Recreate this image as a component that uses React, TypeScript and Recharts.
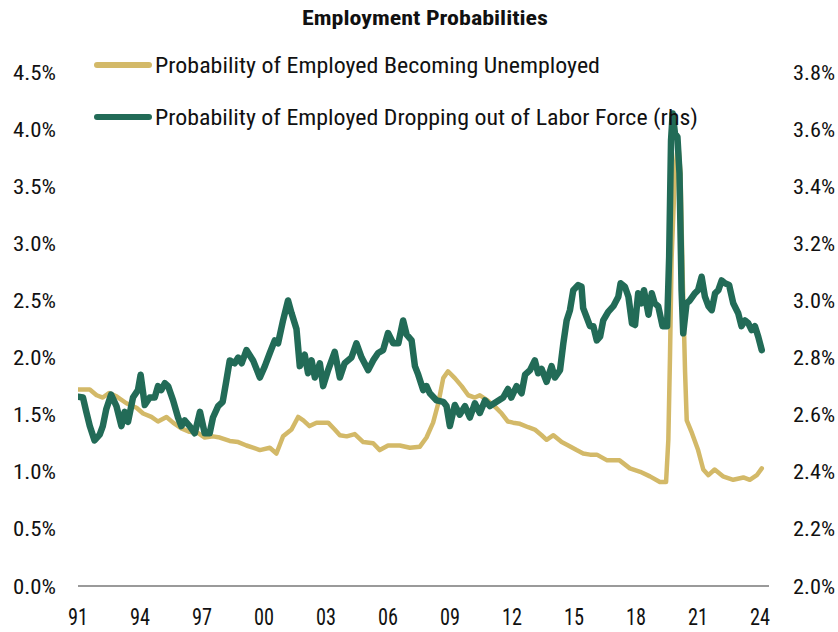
import React from 'react';
import { LineChart, Line, XAxis, YAxis, Legend } from 'recharts';

const chartTitle = 'Employment Probabilities';
const seriesNames = [
  'Probability of Employed Becoming Unemployed',
  'Probability of Employed Dropping out of Labor Force (rhs)',
];
const seriesColors = ['#D3B968', '#226B57'];

// Probability of Employed Becoming Unemployed (left axis, %)
const unempTimes = [
  1991.0, 1991.57, 1991.9, 1992.2, 1992.5, 1992.86, 1993.34, 1993.83, 1994.15, 1994.55,
  1994.87, 1995.28, 1995.6, 1996.0, 1996.4, 1996.8, 1997.13, 1997.53, 1997.86, 1998.34,
  1998.75, 1999.15, 1999.5, 1999.8, 2000.28, 2000.6, 2000.92, 2001.33, 2001.65, 2001.9,
  2002.2, 2002.54, 2003.1, 2003.42, 2003.67, 2004.0, 2004.39, 2004.8, 2005.28, 2005.6,
  2006.0, 2006.57, 2007.06, 2007.54, 2007.86, 2008.18, 2008.43, 2008.67, 2008.9, 2009.23,
  2009.56, 2009.88, 2010.2, 2010.44, 2010.77, 2011.17, 2011.5, 2011.8, 2012.05, 2012.38,
  2012.78, 2013.1, 2013.43, 2013.67, 2014.0, 2014.4, 2014.72, 2015.12, 2015.44, 2015.77,
  2016.1, 2016.6, 2017.2, 2017.7, 2018.2, 2018.67, 2019.15, 2019.45, 2019.56, 2019.64,
  2019.72, 2019.88, 2020.04, 2020.15, 2020.25, 2020.37, 2020.45, 2020.7, 2021.0, 2021.25,
  2021.5, 2021.8, 2022.2, 2022.7, 2023.19, 2023.5, 2023.84, 2024.08,
];
const unempValues = [
  1.72, 1.72, 1.67, 1.65, 1.69, 1.66, 1.60, 1.56, 1.51, 1.48,
  1.44, 1.48, 1.43, 1.38, 1.35, 1.34, 1.30, 1.31, 1.30, 1.27,
  1.26, 1.23, 1.21, 1.19, 1.21, 1.16, 1.31, 1.37, 1.48, 1.45,
  1.40, 1.43, 1.43, 1.37, 1.32, 1.31, 1.33, 1.26, 1.25, 1.19,
  1.23, 1.23, 1.21, 1.22, 1.30, 1.43, 1.60, 1.82, 1.88, 1.82,
  1.75, 1.67, 1.65, 1.67, 1.63, 1.57, 1.51, 1.44, 1.43, 1.42,
  1.39, 1.37, 1.32, 1.28, 1.32, 1.26, 1.23, 1.19, 1.16, 1.15,
  1.15, 1.10, 1.10, 1.03, 1.00, 0.96, 0.91, 0.91, 1.28, 2.01,
  2.88, 3.62, 3.88, 3.61, 2.74, 1.87, 1.45, 1.34, 1.19, 1.02,
  0.97, 1.02, 0.96, 0.93, 0.95, 0.93, 0.97, 1.03,
];

// Probability of Employed Dropping out of Labor Force (right axis, %)
const dropTimes = [
  1991.0, 1991.24, 1991.4, 1991.57, 1991.8, 1992.05, 1992.2, 1992.37, 1992.6, 1992.86,
  1993.1, 1993.26, 1993.42, 1993.66, 1993.9, 1994.03, 1994.23, 1994.47, 1994.71, 1994.87,
  1995.03, 1995.2, 1995.36, 1995.6, 1995.84, 1996.0, 1996.16, 1996.4, 1996.65, 1996.9,
  1997.13, 1997.37, 1997.53, 1997.78, 1998.0, 1998.18, 1998.34, 1998.58, 1998.75, 1998.92,
  1999.15, 1999.47, 1999.8, 2000.04, 2000.28, 2000.52, 2000.68, 2000.92, 2001.16, 2001.33,
  2001.57, 2001.73, 2001.97, 2002.13, 2002.3, 2002.46, 2002.7, 2002.86, 2003.1, 2003.42,
  2003.67, 2003.9, 2004.23, 2004.47, 2004.72, 2005.04, 2005.28, 2005.52, 2005.76, 2006.0,
  2006.25, 2006.5, 2006.73, 2006.9, 2007.14, 2007.3, 2007.46, 2007.7, 2007.86, 2008.02,
  2008.35, 2008.67, 2008.83, 2008.99, 2009.23, 2009.47, 2009.72, 2009.96, 2010.2, 2010.44,
  2010.69, 2010.93, 2011.25, 2011.57, 2011.8, 2011.96, 2012.22, 2012.46, 2012.63, 2012.87,
  2013.1, 2013.26, 2013.43, 2013.67, 2013.91, 2014.07, 2014.32, 2014.48, 2014.64, 2014.8,
  2014.96, 2015.2, 2015.36, 2015.44, 2015.6, 2015.77, 2015.93, 2016.1, 2016.26, 2016.41,
  2016.65, 2016.9, 2017.14, 2017.25, 2017.46, 2017.63, 2017.8, 2017.95, 2018.1, 2018.27,
  2018.38, 2018.6, 2018.76, 2018.9, 2019.07, 2019.28, 2019.5, 2019.6, 2019.69, 2019.77,
  2019.88, 2020.0, 2020.1, 2020.2, 2020.28, 2020.44, 2020.6, 2020.84, 2021.0, 2021.17,
  2021.33, 2021.5, 2021.66, 2021.82, 2021.98, 2022.14, 2022.3, 2022.5, 2022.7, 2022.94,
  2023.1, 2023.27, 2023.43, 2023.59, 2023.75, 2023.91, 2024.08,
];
const dropValues = [
  2.663, 2.66, 2.61, 2.56, 2.51, 2.53, 2.56, 2.62, 2.67, 2.63,
  2.56, 2.61, 2.575, 2.66, 2.686, 2.74, 2.634, 2.66, 2.66, 2.70,
  2.686, 2.71, 2.70, 2.65, 2.59, 2.56, 2.58, 2.56, 2.535, 2.61,
  2.535, 2.535, 2.59, 2.63, 2.645, 2.72, 2.79, 2.78, 2.80, 2.78,
  2.826, 2.79, 2.73, 2.77, 2.816, 2.86, 2.85, 2.93, 3.00, 2.956,
  2.90, 2.77, 2.81, 2.745, 2.79, 2.73, 2.78, 2.70, 2.756, 2.82,
  2.73, 2.78, 2.80, 2.85, 2.80, 2.756, 2.79, 2.816, 2.826, 2.886,
  2.85, 2.85, 2.93, 2.88, 2.86, 2.77, 2.74, 2.686, 2.70, 2.675,
  2.65, 2.645, 2.63, 2.56, 2.634, 2.60, 2.63, 2.59, 2.64, 2.606,
  2.65, 2.63, 2.645, 2.66, 2.69, 2.66, 2.70, 2.675, 2.74, 2.756,
  2.79, 2.745, 2.76, 2.715, 2.77, 2.73, 2.756, 2.85, 2.93, 2.966,
  3.036, 3.054, 3.048, 2.973, 2.943, 2.91, 2.91, 2.86, 2.873, 2.93,
  2.96, 2.98, 3.013, 3.06, 3.048, 3.013, 2.92, 2.914, 3.025, 2.99,
  3.036, 2.95, 3.025, 2.99, 2.98, 2.91, 2.91, 3.153, 3.56, 3.655,
  3.585, 3.573, 3.445, 3.036, 2.885, 2.99, 3.00, 3.025, 3.036, 3.083,
  3.013, 2.98, 2.966, 3.025, 3.036, 3.07, 3.06, 3.054, 2.99, 2.955,
  2.91, 2.93, 2.92, 2.896, 2.91, 2.873, 2.826,
];

const xTicks = [1991, 1994, 1997, 2000, 2003, 2006, 2009, 2012, 2015, 2018, 2021, 2024];
const leftTicks = [0, 0.5, 1.0, 1.5, 2.0, 2.5, 3.0, 3.5, 4.0, 4.5];
const rightTicks = [2.0, 2.2, 2.4, 2.6, 2.8, 3.0, 3.2, 3.4, 3.6, 3.8];

const unempData = unempTimes.map((t, i) => ({ t, v: unempValues[i] }));
const dropData = dropTimes.map((t, i) => ({ t, v: dropValues[i] }));

const FONT = "'Roboto Condensed', Roboto, 'Liberation Sans', sans-serif";
const TEXT = '#111111';

const XTick = (props: any) => {
  const { x, y, payload } = props;
  const label = String(payload.value % 100).padStart(2, '0');
  return (
    <text x={x} y={y + 39} textAnchor="middle" fill={TEXT} fontSize={24}
      fontFamily={FONT} textLength={20} lengthAdjust="spacingAndGlyphs">
      {label}
    </text>
  );
};

const LeftTick = (props: any) => {
  const { x, y, payload } = props;
  return (
    <text x={x - 22} y={y + 7.5} textAnchor="end" fill={TEXT} fontSize={21}
      fontFamily={FONT} textLength={43} lengthAdjust="spacingAndGlyphs">
      {`${payload.value.toFixed(1)}%`}
    </text>
  );
};

const RightTick = (props: any) => {
  const { x, y, payload } = props;
  return (
    <text x={x + 24} y={y + 7.5} textAnchor="start" fill={TEXT} fontSize={21}
      fontFamily={FONT} textLength={42} lengthAdjust="spacingAndGlyphs">
      {`${payload.value.toFixed(1)}%`}
    </text>
  );
};

const legendWidths = [445, 543];
const legendY = [65, 117];

const renderLegend = () => (
  <svg width={838} height={140} style={{ display: 'block' }}>
    <text x={425} y={25} textAnchor="middle" fill={TEXT} fontSize={20} fontWeight={700}
      fontFamily={FONT} textLength={246} lengthAdjust="spacingAndGlyphs">
      {chartTitle}
    </text>
    {seriesNames.map((name, i) => (
      <g key={name}>
        <line x1={97} x2={149} y1={legendY[i]} y2={legendY[i]} stroke={seriesColors[i]}
          strokeWidth={6} strokeLinecap="round" />
        <text x={155} y={legendY[i] + 8} fill={TEXT} fontSize={22} fontFamily={FONT}
          textLength={legendWidths[i]} lengthAdjust="spacingAndGlyphs">
          {name}
        </text>
      </g>
    ))}
  </svg>
);

export default function App() {
  return (
    <div style={{ position: 'absolute', left: 0, top: 0, width: 838, height: 632, background: '#fff' }}>
      <LineChart width={838} height={632} margin={{ top: 72, right: 0, bottom: 0, left: 0 }}>
        <XAxis dataKey="t" type="number" domain={[1991, 2024.43]} ticks={xTicks}
          allowDataOverflow height={46} tickSize={0} tickMargin={0} tickLine={false}
          axisLine={{ stroke: '#9a9a9a', strokeWidth: 2 }} tick={<XTick />} interval={0} />
        <YAxis yAxisId="left" orientation="left" domain={[0, 4.5]} ticks={leftTicks}
          width={78} tickSize={0} tickMargin={0} tickLine={false} axisLine={false}
          tick={<LeftTick />} interval={0} allowDataOverflow />
        <YAxis yAxisId="right" orientation="right" domain={[2.0, 3.8]} ticks={rightTicks}
          width={69} tickSize={0} tickMargin={0} tickLine={false} axisLine={false}
          tick={<RightTick />} interval={0} allowDataOverflow />
        <Legend layout="vertical" align="center" verticalAlign="middle"
          wrapperStyle={{ top: 0, left: 0, width: 838, height: 140 }} content={renderLegend} />
        <Line yAxisId="left" data={unempData} dataKey="v" name={seriesNames[0]} type="linear"
          stroke={seriesColors[0]} strokeWidth={4.5} dot={false} isAnimationActive={false}
          strokeLinejoin="round" strokeLinecap="round" />
        <Line yAxisId="right" data={dropData} dataKey="v" name={seriesNames[1]} type="linear"
          stroke={seriesColors[1]} strokeWidth={6.5} dot={false} isAnimationActive={false}
          strokeLinejoin="round" strokeLinecap="round" />
      </LineChart>
    </div>
  );
}
